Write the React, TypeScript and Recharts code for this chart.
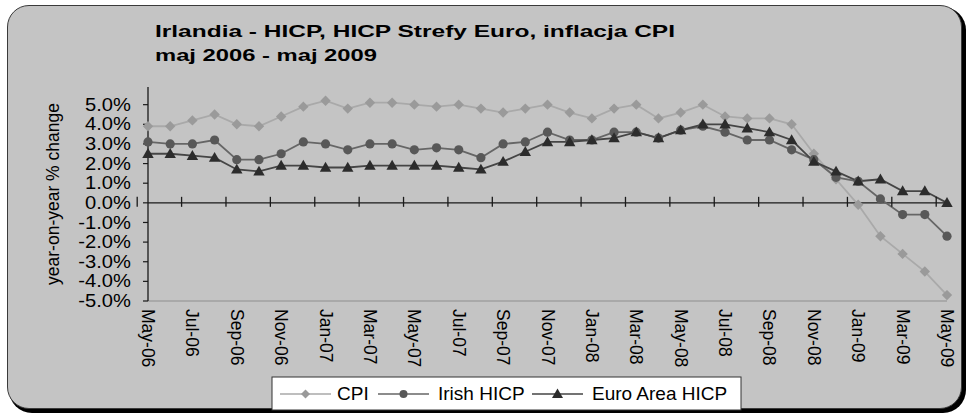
import React from 'react';
import { LineChart, Line, XAxis, YAxis, ReferenceLine } from 'recharts';

const months = [
  'May-06', 'Jun-06', 'Jul-06', 'Aug-06', 'Sep-06', 'Oct-06', 'Nov-06', 'Dec-06',
  'Jan-07', 'Feb-07', 'Mar-07', 'Apr-07', 'May-07', 'Jun-07', 'Jul-07', 'Aug-07',
  'Sep-07', 'Oct-07', 'Nov-07', 'Dec-07', 'Jan-08', 'Feb-08', 'Mar-08', 'Apr-08',
  'May-08', 'Jun-08', 'Jul-08', 'Aug-08', 'Sep-08', 'Oct-08', 'Nov-08', 'Dec-08',
  'Jan-09', 'Feb-09', 'Mar-09', 'Apr-09', 'May-09',
];
const cpi = [
  3.9, 3.9, 4.2, 4.5, 4.0, 3.9, 4.4, 4.9, 5.2, 4.8, 5.1, 5.1, 5.0, 4.9, 5.0, 4.8,
  4.6, 4.8, 5.0, 4.6, 4.3, 4.8, 5.0, 4.3, 4.6, 5.0, 4.4, 4.3, 4.3, 4.0, 2.5, 1.2,
  -0.1, -1.7, -2.6, -3.5, -4.7,
];
const irishHicp = [
  3.1, 3.0, 3.0, 3.2, 2.2, 2.2, 2.5, 3.1, 3.0, 2.7, 3.0, 3.0, 2.7, 2.8, 2.7, 2.3,
  3.0, 3.1, 3.6, 3.2, 3.2, 3.6, 3.6, 3.3, 3.7, 3.9, 3.6, 3.2, 3.2, 2.7, 2.2, 1.3,
  1.1, 0.2, -0.6, -0.6, -1.7,
];
const euroHicp = [
  2.5, 2.5, 2.4, 2.3, 1.7, 1.6, 1.9, 1.9, 1.8, 1.8, 1.9, 1.9, 1.9, 1.9, 1.8, 1.7,
  2.1, 2.6, 3.1, 3.1, 3.2, 3.3, 3.6, 3.3, 3.7, 4.0, 4.0, 3.8, 3.6, 3.2, 2.1, 1.6,
  1.1, 1.2, 0.6, 0.6, 0.0,
];
const yTicks = [-5, -4, -3, -2, -1, 0, 1, 2, 3, 4, 5];
const seriesNames = ['CPI', 'Irish HICP', 'Euro Area HICP'];
const titleLines = ['Irlandia - HICP, HICP Strefy Euro, inflacja CPI', 'maj 2006 - maj 2009'];
const yAxisTitle = 'year-on-year % change';

const data = months.map((m, i) => ({ month: m, cpi: cpi[i], irish: irishHicp[i], euro: euroHicp[i] }));

const W = 967;
const H = 413;
const PLOT_LEFT = 148;
const PLOT_RIGHT = 947;
const PLOT_TOP = 87;
const PLOT_BOTTOM = 301;
const Y_MIN = -5;
const Y_MAX = 5.9;
const ZERO_Y = PLOT_TOP + (Y_MAX / (Y_MAX - Y_MIN)) * (PLOT_BOTTOM - PLOT_TOP);
const BAND = (PLOT_RIGHT - PLOT_LEFT) / months.length;
const FONT = '"Liberation Sans", Arial, Helvetica, sans-serif';

const C_CPI_M = '#9a9a9a';
const C_CPI_L = '#a9a9a9';
const C_IR_M = '#585858';
const C_IR_L = '#666666';
const C_EU_M = '#2c2c2c';
const C_EU_L = '#454545';

const diamond = (cx: number, cy: number, r: number, fill: string, key?: any) => (
  <polygon key={key} points={`${cx},${cy - r} ${cx + r},${cy} ${cx},${cy + r} ${cx - r},${cy}`} fill={fill} />
);
const circle = (cx: number, cy: number, r: number, fill: string, key?: any) => (
  <circle key={key} cx={cx} cy={cy} r={r} fill={fill} />
);
const triangle = (cx: number, cy: number, r: number, fill: string, key?: any) => (
  <polygon
    key={key}
    points={`${cx},${cy - r * 1.1} ${cx + r * 1.1},${cy + r * 0.8} ${cx - r * 1.1},${cy + r * 0.8}`}
    fill={fill}
  />
);

const XTick = (props: any) => {
  const { x, payload } = props;
  const ty = PLOT_BOTTOM + 8;
  return (
    <g>
      <line x1={x - BAND / 2} x2={x - BAND / 2} y1={ZERO_Y - 6} y2={ZERO_Y + 4} stroke="#1a1a1a" strokeWidth={1.3} />
      <text
        x={x}
        y={ty}
        transform={`rotate(90 ${x} ${ty})`}
        textAnchor="start"
        dominantBaseline="central"
        fontFamily={FONT}
        fontSize={17.5}
        fill="#000"
      >
        {payload.value}
      </text>
    </g>
  );
};

const YTick = (props: any) => {
  const { x, y, payload } = props;
  const label = `${Number(payload.value).toFixed(1)}%`;
  return (
    <g transform={`translate(${x} ${y}) scale(1.12 1)`}>
      <text x={0} y={0} textAnchor="end" dominantBaseline="central" fontFamily={FONT} fontSize={18} fill="#000">
        {label}
      </text>
    </g>
  );
};

export default function App() {
  const legendItems = [
    { name: seriesNames[0], x0: 280, text: 337, m: (x: number, y: number) => diamond(x, y, 4.5, C_CPI_M), line: C_CPI_L },
    { name: seriesNames[1], x0: 378, text: 438, m: (x: number, y: number) => circle(x, y, 4, C_IR_M), line: C_IR_L },
    { name: seriesNames[2], x0: 532, text: 592, m: (x: number, y: number) => triangle(x, y, 5, C_EU_M), line: C_EU_L },
  ];
  return (
    <div style={{ position: 'absolute', left: 0, top: 0, width: W, height: H, background: '#fff', overflow: 'hidden' }}>
      <div
        style={{
          position: 'absolute',
          left: 7,
          top: 5,
          width: 953,
          height: 402,
          border: '1px solid #3a3a3a',
          borderRadius: 22,
          background: '#c4c4c4',
          boxShadow: '3px 3px 0 1px #000',
        }}
      />
      <div style={{ position: 'absolute', left: 0, top: 0 }}>
        <LineChart
          width={W}
          height={H}
          data={data}
          margin={{ top: PLOT_TOP, right: W - PLOT_RIGHT, bottom: 0, left: 0 }}
        >
          <XAxis
            xAxisId="top"
            orientation="top"
            dataKey="month"
            height={0}
            tick={false}
            tickLine={false}
            axisLine={{ stroke: '#8e8e8e', strokeWidth: 1 }}
          />
          <YAxis
            yAxisId="right"
            orientation="right"
            width={0}
            domain={[Y_MIN, Y_MAX]}
            tick={false}
            tickLine={false}
            axisLine={{ stroke: '#8e8e8e', strokeWidth: 1 }}
          />
          <XAxis
            xAxisId="main"
            dataKey="month"
            height={H - PLOT_BOTTOM}
            interval={1}
            tickLine={false}
            axisLine={{ stroke: '#8e8e8e', strokeWidth: 1 }}
            tick={<XTick />}
          />
          <YAxis
            yAxisId="main"
            width={PLOT_LEFT}
            domain={[Y_MIN, Y_MAX]}
            ticks={yTicks}
            interval={0}
            tickSize={5}
            tickMargin={12}
            tick={<YTick />}
            tickLine={{ stroke: '#1a1a1a', strokeWidth: 1.2 }}
            axisLine={{ stroke: '#1a1a1a', strokeWidth: 1.3 }}
          />
          <ReferenceLine xAxisId="main" yAxisId="main" y={0} stroke="#1a1a1a" strokeWidth={1.4} />
          <Line
            xAxisId="main"
            yAxisId="main"
            type="linear"
            dataKey="cpi"
            name={seriesNames[0]}
            stroke={C_CPI_L}
            strokeWidth={1.8}
            isAnimationActive={false}
            dot={(p: any) => diamond(p.cx, p.cy, 5.2, C_CPI_M, `c${p.index}`)}
            activeDot={false}
          />
          <Line
            xAxisId="main"
            yAxisId="main"
            type="linear"
            dataKey="irish"
            name={seriesNames[1]}
            stroke={C_IR_L}
            strokeWidth={1.8}
            isAnimationActive={false}
            dot={(p: any) => circle(p.cx, p.cy, 4.6, C_IR_M, `i${p.index}`)}
            activeDot={false}
          />
          <Line
            xAxisId="main"
            yAxisId="main"
            type="linear"
            dataKey="euro"
            name={seriesNames[2]}
            stroke={C_EU_L}
            strokeWidth={1.8}
            isAnimationActive={false}
            dot={(p: any) => triangle(p.cx, p.cy, 5.2, C_EU_M, `e${p.index}`)}
            activeDot={false}
          />
        </LineChart>
      </div>
      <svg width={W} height={H} style={{ position: 'absolute', left: 0, top: 0, pointerEvents: 'none' }}>
        <text
          x={155}
          y={37}
          fontFamily={FONT}
          fontWeight="bold"
          fontSize={17}
          fill="#000"
          textLength={520}
          lengthAdjust="spacingAndGlyphs"
        >
          {titleLines[0]}
        </text>
        <text
          x={155}
          y={61}
          fontFamily={FONT}
          fontWeight="bold"
          fontSize={17}
          fill="#000"
          textLength={222}
          lengthAdjust="spacingAndGlyphs"
        >
          {titleLines[1]}
        </text>
        <text
          x={53}
          y={194}
          transform="rotate(-90 53 194)"
          textAnchor="middle"
          dominantBaseline="central"
          fontFamily={FONT}
          fontSize={17.5}
          fill="#000"
        >
          {yAxisTitle}
        </text>
        <rect x={272} y={377} width={469} height={33} fill="#fff" stroke="#333" strokeWidth={1} />
        {legendItems.map((it) => (
          <g key={it.name}>
            <line x1={it.x0} x2={it.x0 + 51} y1={394} y2={394} stroke={it.line} strokeWidth={1.5} />
            {it.m(it.x0 + 25.5, 394)}
            <text x={it.text} y={400} fontFamily={FONT} fontSize={19} fill="#000">
              {it.name}
            </text>
          </g>
        ))}
      </svg>
    </div>
  );
}
